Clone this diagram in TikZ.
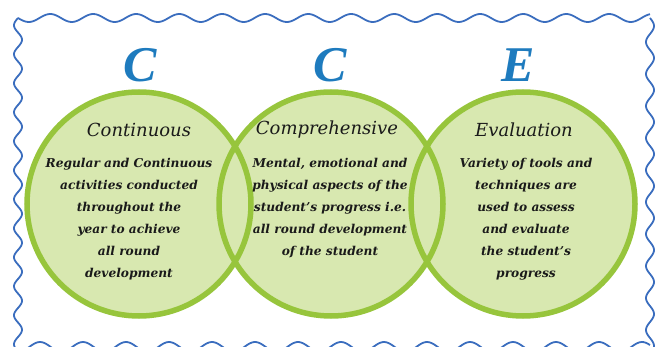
\documentclass[tikz,border=0pt]{standalone}
\usepackage{fontspec}
\setmainfont{DejaVu Serif}
\newfontfamily\capfont{Liberation Serif}
\definecolor{frameblue}{HTML}{3A6DBE}
\definecolor{letterblue}{HTML}{1E7BBE}
\definecolor{ringgreen}{HTML}{97C53C}
\definecolor{discgreen}{HTML}{D8E8B0}
\definecolor{inkdark}{HTML}{1A1A1A}
\begin{document}
\begin{tikzpicture}[x=1pt, y=-1pt,
  wave/.style={draw=frameblue, line width=1.8pt, samples=300, smooth},
  disc/.style={circle, fill=discgreen, minimum size=224pt, inner sep=0pt},
  ring/.style={draw=ringgreen, line width=5.5pt},
  letter/.style={text=letterblue, font=\capfont\bfseries\itshape\fontsize{50}{50}\selectfont},
  heading/.style={text=inkdark, font=\itshape\fontsize{18}{20}\selectfont},
  body/.style={text=inkdark, align=center, font=\bfseries\itshape\fontsize{12.2}{22}\selectfont}]
  \useasboundingbox (0,0) rectangle (658,347);

  % wavy frame
  \begin{scope}
    \clip (0,0) rectangle (658,347);
    \draw[wave, domain=18:650] plot (\x, {18+4*sin((\x-18)/43*360)});
    \draw[wave, domain=18:360] plot ({18-4*sin((\x-18)/29*360)}, \x);
    \draw[wave, domain=18:360] plot ({650+4*sin((\x-18)/32*360)}, \x);
    \draw[wave, domain=10:650] plot (\x, {347-5*cos((\x-40)/43*360)});
  \end{scope}

  % the three discs, outlines drawn over all fills
  \node[disc] (cont) at (139,204) {};
  \node[disc] (comp) at (331,204) {};
  \node[disc] (eval) at (523,204) {};
  \foreach \n in {cont,comp,eval}
    \draw[ring] (\n) circle (112);

  % big letters
  \node[letter] (c1) at (140,65) {C};
  \node[letter] (c2) at (330,65) {C};
  \node[letter] (e1) at (518,65) {E};

  % headings
  \node[heading] (cont-t) at (139,130) {Continuous};
  \node[heading] (comp-t) at (327,130) {Comprehensive};
  \node[heading] (eval-t) at (524,130) {Evaluation};

  % descriptions
  \node[body] (cont-b) at (129,219) {Regular and Continuous\\activities conducted\\throughout the\\year to achieve\\all round\\development};
  \node[body] (comp-b) at (330,208) {Mental, emotional and\\physical aspects of the\\student's progress i.e.\\all round development\\of the student};
  \node[body] (eval-b) at (526,219) {Variety of tools and\\techniques are\\used to assess\\and evaluate\\the student's\\progress};
\end{tikzpicture}
\end{document}
